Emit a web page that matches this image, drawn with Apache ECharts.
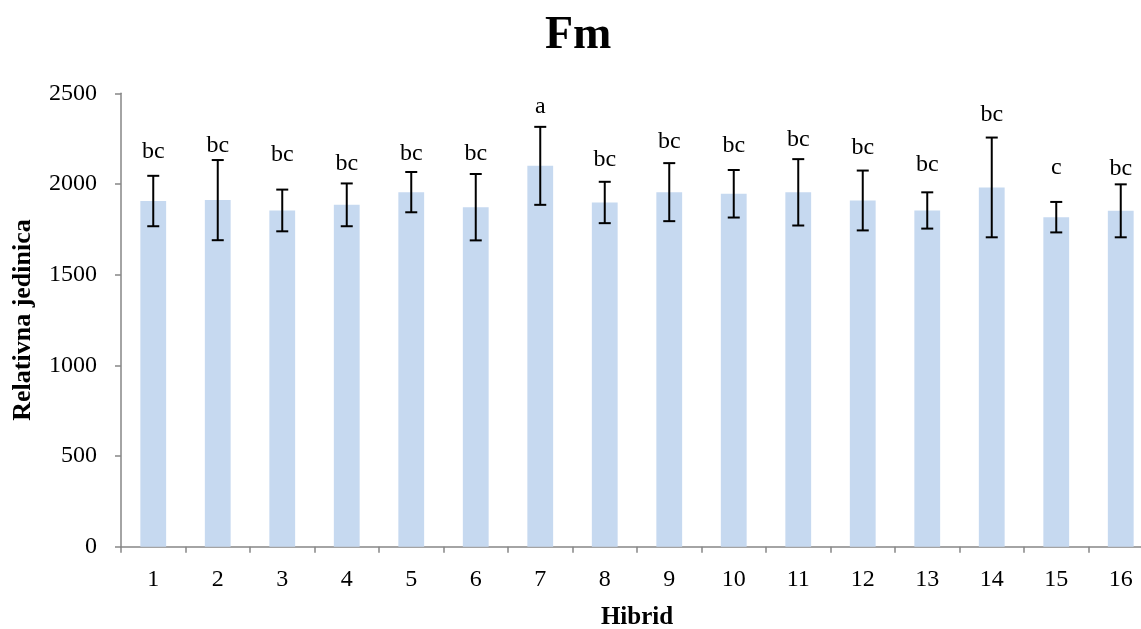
<!DOCTYPE html>
<html>
<head>
<meta charset="utf-8">
<script src="https://cdn.jsdelivr.net/npm/echarts@6/dist/echarts.min.js"></script>
<style>
html,body{margin:0;padding:0;background:#fff;}
#chart{width:1141px;height:629px;}
</style>
</head>
<body>
<div id="chart"></div>
<script>
var categories = ['1','2','3','4','5','6','7','8','9','10','11','12','13','14','15','16'];
var means = [1906, 1911, 1854, 1885, 1955, 1872, 2100, 1898, 1955, 1946, 1954, 1909, 1854, 1981, 1817, 1852];
var errors = [139, 221, 115, 118, 111, 183, 215, 114, 160, 131, 183, 165, 100, 275, 84, 146];
var letters = ['bc','bc','bc','bc','bc','bc','a','bc','bc','bc','bc','bc','bc','bc','c','bc'];
var letterLevels = [2177, 2211, 2159, 2114, 2165, 2169, 2426, 2132, 2233, 2211, 2246, 2200, 2104, 2384, 2088, 2086];
var yTicks = [0, 500, 1000, 1500, 2000, 2500];

var FONT = "'Liberation Serif','Times New Roman',serif";
var chart = echarts.init(document.getElementById('chart'), null, {renderer: 'canvas'});

var errData = categories.map(function (c, i) {
  return [i, means[i] - errors[i], means[i] + errors[i], letterLevels[i], letters[i]];
});

chart.setOption({
  animation: false,
  backgroundColor: '#ffffff',
  title: {
    text: 'Fm',
    left: 540,
    top: 8,
    textStyle: {fontFamily: FONT, fontWeight: 'bold', fontSize: 46, color: '#000'}
  },
  grid: {left: 121, right: -12, top: 93.3, bottom: 82.3, containLabel: false, outerBoundsMode: 'none'},
  xAxis: {
    type: 'category',
    data: categories,
    name: 'Hibrid',
    nameLocation: 'middle',
    nameGap: 58,
    nameTextStyle: {fontFamily: FONT, fontWeight: 'bold', fontSize: 25, color: '#000'},
    axisLine: {lineStyle: {color: '#868686', width: 1.5}},
    axisTick: {show: true, length: 6, lineStyle: {color: '#868686', width: 1.5}},
    axisLabel: {fontFamily: FONT, fontSize: 24, color: '#000', margin: 21},
    splitLine: {show: false}
  },
  yAxis: {
    type: 'value',
    min: yTicks[0],
    max: yTicks[yTicks.length - 1],
    interval: 500,
    name: 'Relativna jedinica',
    nameLocation: 'middle',
    nameGap: 85,
    nameRotate: 90,
    nameTextStyle: {fontFamily: FONT, fontWeight: 'bold', fontSize: 26, color: '#000'},
    axisLine: {show: true, lineStyle: {color: '#868686', width: 1.5}},
    axisTick: {show: true, length: 6, lineStyle: {color: '#868686', width: 1.5}},
    axisLabel: {fontFamily: FONT, fontSize: 24, color: '#000', margin: 24,
      formatter: function (v) { return String(v); }},
    splitLine: {show: false}
  },
  series: [
    {
      type: 'bar',
      data: means,
      barWidth: '40%',
      itemStyle: {color: '#C6D9F0'},
      z: 1
    },
    {
      type: 'custom',
      data: errData,
      z: 5,
      clip: false,
      renderItem: function (params, api) {
        var i = api.value(0);
        var lo = api.coord([i, api.value(1)]);
        var hi = api.coord([i, api.value(2)]);
        var lab = api.coord([i, api.value(3)]);
        var hw = 6;
        var st = {stroke: '#000', lineWidth: 2};
        return {
          type: 'group',
          children: [
            {type: 'line', shape: {x1: hi[0], y1: hi[1], x2: lo[0], y2: lo[1]}, style: st},
            {type: 'line', shape: {x1: hi[0] - hw, y1: hi[1], x2: hi[0] + hw, y2: hi[1]}, style: st},
            {type: 'line', shape: {x1: lo[0] - hw, y1: lo[1], x2: lo[0] + hw, y2: lo[1]}, style: st},
            {type: 'text', x: lab[0], y: lab[1], style: {
              text: letters[params.dataIndex], fill: '#000', font: '24px ' + FONT,
              align: 'center', verticalAlign: 'middle'
            }}
          ]
        };
      }
    }
  ]
});
</script>
</body>
</html>
